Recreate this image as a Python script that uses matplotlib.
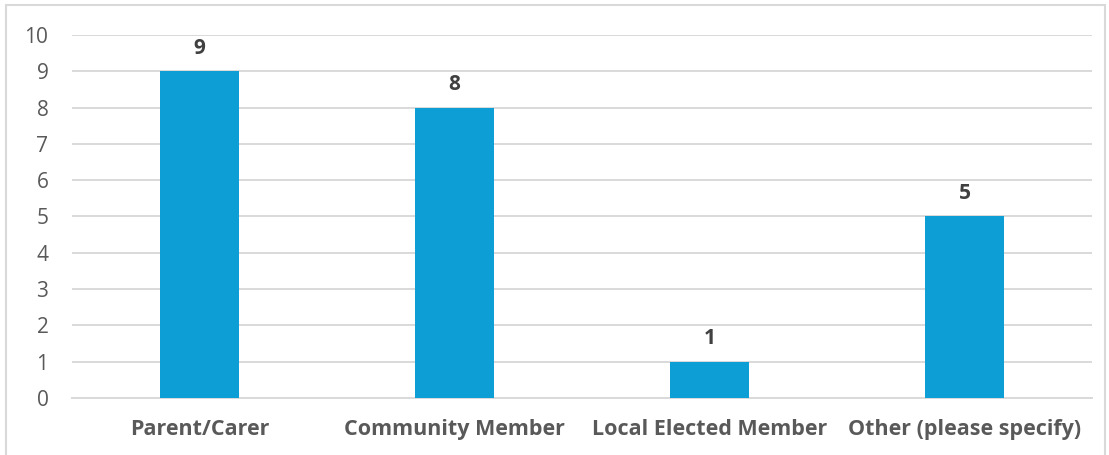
import matplotlib.pyplot as plt
from matplotlib.patches import Rectangle

plt.rcParams['font.family'] = ['Open Sans', 'DejaVu Sans']

categories = ['Parent/Carer', 'Community Member', 'Local Elected Member', 'Other (please specify)']
counts = [9, 8, 1, 5]
yticks = list(range(0, 11))

W, H = 1109, 455
fig = plt.figure(figsize=(W / 100, H / 100), dpi=100)
ax = fig.add_axes([72 / W, 57 / H, 1020 / W, 363 / H])

x = range(len(categories))
bars = ax.bar(x, counts, width=0.31, color='#0E9ED6', zorder=3)

for b, v in zip(bars, counts):
    ax.annotate(str(v), (b.get_x() + b.get_width() / 2, v), xytext=(0, 9),
                textcoords='offset points', ha='center', va='bottom',
                fontsize=15, fontweight='bold', color='#404040')

ax.set_xlim(-0.5, len(categories) - 0.5)
ax.set_ylim(0, 10)
ax.set_yticks(yticks)
ax.set_xticks(list(x))
ax.set_xticklabels(categories, fontsize=15.5, fontweight='bold', color='#595959')
ax.tick_params(axis='y', labelsize=15, labelcolor='#595959', length=0, pad=17)
ax.tick_params(axis='x', length=0, pad=15)
ax.yaxis.grid(True, color='#D9D9D9', linewidth=1.4, zorder=0)
for s in ['top', 'right', 'left']:
    ax.spines[s].set_visible(False)
ax.spines['bottom'].set_color('#D9D9D9')
ax.spines['bottom'].set_linewidth(1.4)

fig.patches.append(Rectangle((6 / W, -0.01), (W - 10) / W, (H - 5) / H + 0.01,
                             transform=fig.transFigure, fill=False,
                             edgecolor='#D9D9D9', linewidth=1.5))

fig.savefig('out.png', dpi=100)
